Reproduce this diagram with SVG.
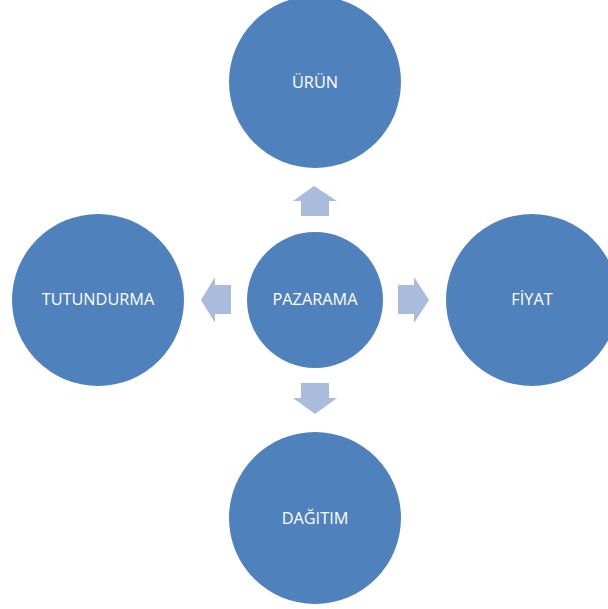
<svg xmlns="http://www.w3.org/2000/svg" width="608" height="609" viewBox="0 0 608 609">
<style>
.n{fill:#4F81BD}
.t{fill:#fff;font-family:"Open Sans","Liberation Sans",sans-serif;font-size:16.3px;text-anchor:middle;dominant-baseline:central}
.a{fill:#A9BCDC}
</style>
<rect width="608" height="609" fill="#fff"/>
<g id="connectors">
<polygon class="a" points="314,186 337,201 329,201 329,216 301,216 301,201 293,201"/>
<polygon class="a" points="201,300 215,277 215,285 231,285 231,314 215,314 215,323"/>
<polygon class="a" points="429,300 414,277 414,285 398,285 398,314 414,314 414,323"/>
<polygon class="a" points="315,414 337,398 329,398 329,383 301,383 301,398 293,398"/>
</g>
<g id="urun"><circle class="n" cx="315" cy="82" r="86"/><text class="t" x="315" y="82">ÜRÜN</text></g>
<g id="pazarama"><circle class="n" cx="315" cy="300" r="68"/><text class="t" x="315" y="299">PAZARAMA</text></g>
<g id="fiyat"><circle class="n" cx="532" cy="300" r="86"/><text class="t" x="532" y="299">FİYAT</text></g>
<g id="tutundurma"><circle class="n" cx="98" cy="300" r="86"/><text class="t" x="98" y="299">TUTUNDURMA</text></g>
<g id="dagitim"><circle class="n" cx="315" cy="518" r="86"/><text class="t" x="315" y="518">DAĞITIM</text></g>
</svg>
